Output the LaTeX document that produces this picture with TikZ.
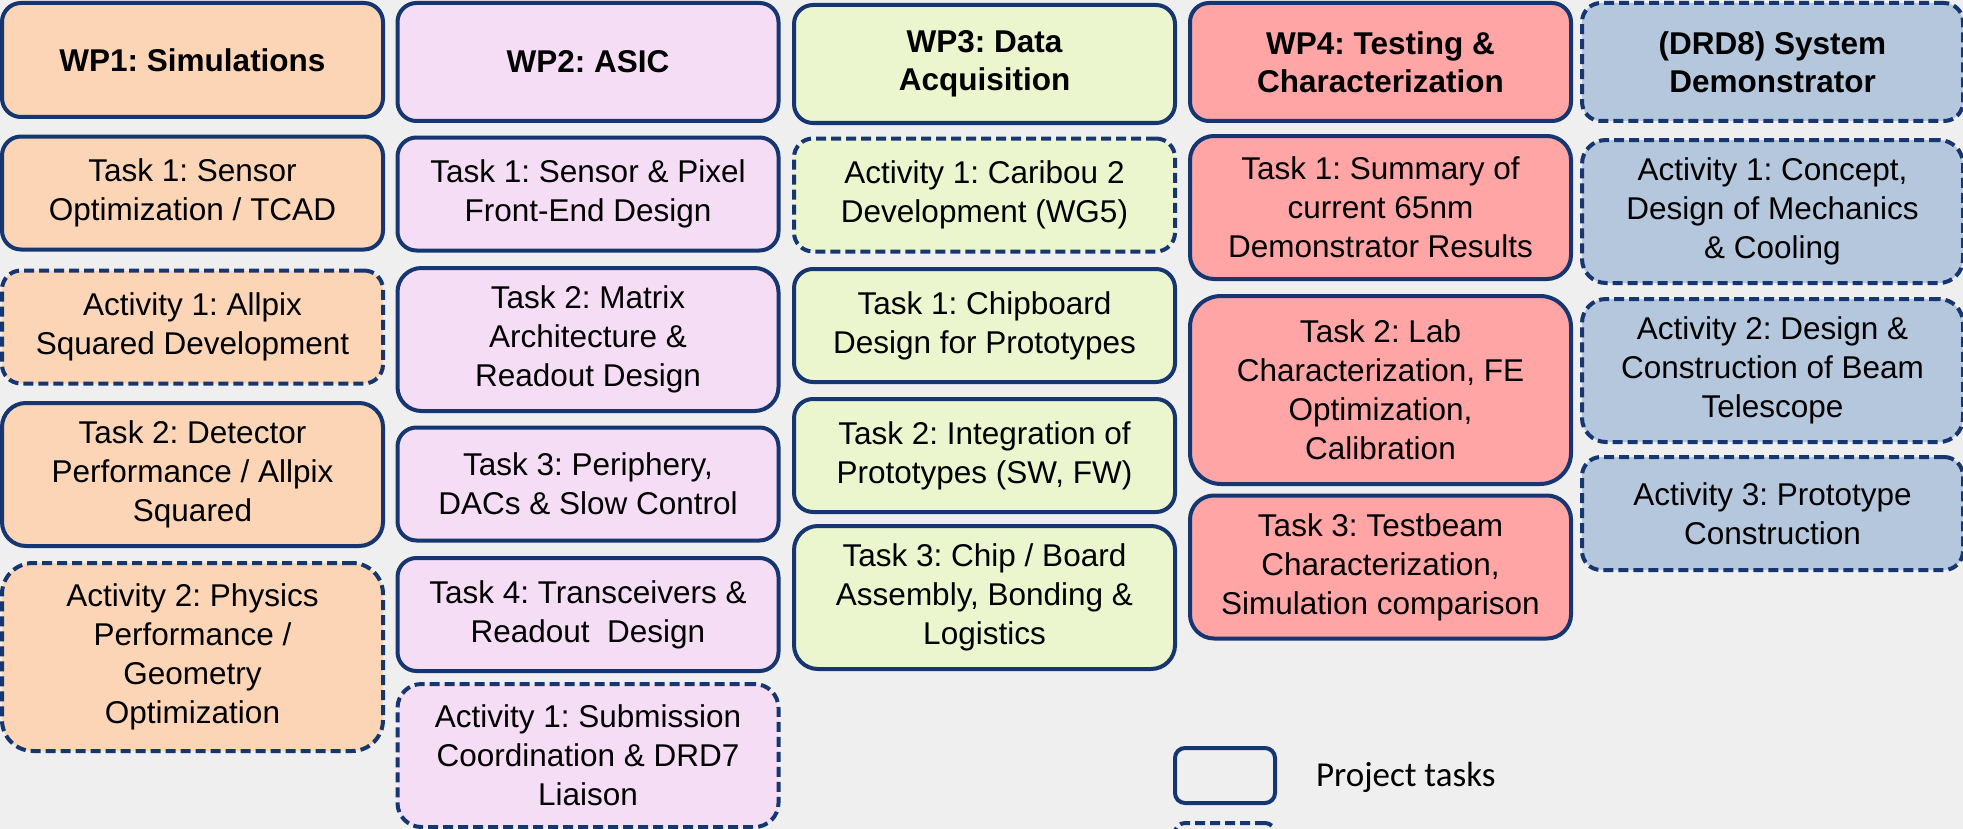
\documentclass[tikz,border=0pt]{standalone}
\usepackage{fontspec}
\setmainfont{Liberation Sans}
\newfontfamily\legendfont{Carlito}
\frenchspacing

\definecolor{navy}{RGB}{22,54,114}
\definecolor{bggray}{RGB}{239,239,239}
\definecolor{simcol}{RGB}{251,213,181}
\definecolor{asiccol}{RGB}{245,221,245}
\definecolor{daqcol}{RGB}{235,245,206}
\definecolor{testcol}{RGB}{255,165,165}
\definecolor{syscol}{RGB}{180,199,221}

\begin{document}
\begin{tikzpicture}[x=0.5pt,y=-0.5pt]
    \tikzstyle{box}=[draw=navy, line width=2pt, align=center, inner sep=0pt,
        minimum width=190.5pt, font=\fontsize{15.75pt}{19.5pt}\selectfont]
    \tikzstyle{task}=[box]
    \tikzstyle{act}=[box, dash pattern=on 5pt off 2.5pt]
    \tikzstyle{head}=[font=\fontsize{15.75pt}{19pt}\bfseries\selectfont]
    % box heights
    \tikzstyle{lo}=[minimum height=56.5pt, rounded corners=9.5pt]
    \tikzstyle{hd}=[minimum height=59pt, rounded corners=9.5pt]
    \tikzstyle{mid}=[minimum height=71.5pt, rounded corners=12pt]
    \tikzstyle{hi}=[minimum height=94pt, rounded corners=15.5pt]

    \clip (0,0) rectangle (1963,829);
    \fill[bggray] (0,0) rectangle (1963,829);

    % WP1
    \node[task, head, lo, fill=simcol, minimum height=57pt] (wp1) at (192.5,60) {WP1: Simulations};
    \node[task, lo, fill=simcol] (sim1) at (192.5,193) {Task 1: Sensor\\Optimization / TCAD};
    \node[act, lo, fill=simcol] (simA1) at (192.5,327) {Activity 1: Allpix\\Squared Development};
    \node[task, mid, fill=simcol] (sim2) at (192.5,474.5) {Task 2: Detector\\Performance / Allpix\\Squared};
    \node[act, hi, fill=simcol] (simA2) at (192.5,657) {Activity 2: Physics\\Performance /\\Geometry\\Optimization};

    % WP2
    \node[task, head, hd, fill=asiccol] (wp2) at (588,62) {WP2: ASIC};
    \node[task, lo, fill=asiccol] (asic1) at (588,194) {Task 1: Sensor \& Pixel\\Front-End Design};
    \node[task, mid, fill=asiccol] (asic2) at (588,339.5) {Task 2: Matrix\\Architecture \&\\Readout Design};
    \node[task, lo, fill=asiccol] (asic3) at (588,484) {Task 3: Periphery,\\DACs \& Slow Control};
    \node[task, lo, fill=asiccol] (asic4) at (588,614.5) {Task 4: Transceivers \&\\Readout~~Design};
    \node[act, mid, fill=asiccol] (asicA1) at (588,755.5) {Activity 1: Submission\\Coordination \& DRD7\\Liaison};

    % WP3
    \node[task, head, hd, fill=daqcol] (wp3) at (984.5,64) {WP3: Data\\Acquisition};
    \node[act, lo, fill=daqcol] (daqA1) at (984.5,195) {Activity 1: Caribou 2\\Development (WG5)};
    \node[task, lo, fill=daqcol] (daq1) at (984.5,325.5) {Task 1: Chipboard\\Design for Prototypes};
    \node[task, lo, fill=daqcol] (daq2) at (984.5,455.5) {Task 2: Integration of\\Prototypes (SW, FW)};
    \node[task, mid, fill=daqcol] (daq3) at (984.5,597.5) {Task 3: Chip / Board\\Assembly, Bonding \&\\Logistics};

    % WP4
    \node[task, head, hd, fill=testcol] (wp4) at (1380.5,62) {WP4: Testing \&\\Characterization};
    \node[task, mid, fill=testcol] (test1) at (1380.5,207.5) {Task 1: Summary of\\current 65nm\\Demonstrator Results};
    \node[task, hi, fill=testcol] (test2) at (1380.5,390) {Task 2: Lab\\Characterization, FE\\Optimization,\\Calibration};
    \node[task, mid, fill=testcol] (test3) at (1380.5,567) {Task 3: Testbeam\\Characterization,\\Simulation comparison};

    % DRD8 system demonstrator
    \node[act, head, hd, fill=syscol] (drd8) at (1772.5,62) {(DRD8) System\\Demonstrator};
    \node[act, mid, fill=syscol] (sysA1) at (1772.5,211.5) {Activity 1: Concept,\\Design of Mechanics\\\& Cooling};
    \node[act, mid, fill=syscol] (sysA2) at (1772.5,370.5) {Activity 2: Design \&\\Construction of Beam\\Telescope};
    \node[act, lo, fill=syscol] (sysA3) at (1772.5,513.5) {Activity 3: Prototype\\Construction};

    % legend
    \node[task, minimum width=50pt, minimum height=27.5pt, rounded corners=5pt] (keytask) at (1225,775.5) {};
    \node[anchor=west, font=\legendfont\fontsize{17.5pt}{21pt}\selectfont] (keytasktxt) at (1309,777) {Project tasks};
    \node[act, minimum width=50pt, minimum height=27.5pt, rounded corners=5pt] (keyact) at (1225,850.5) {};
\end{tikzpicture}
\end{document}
